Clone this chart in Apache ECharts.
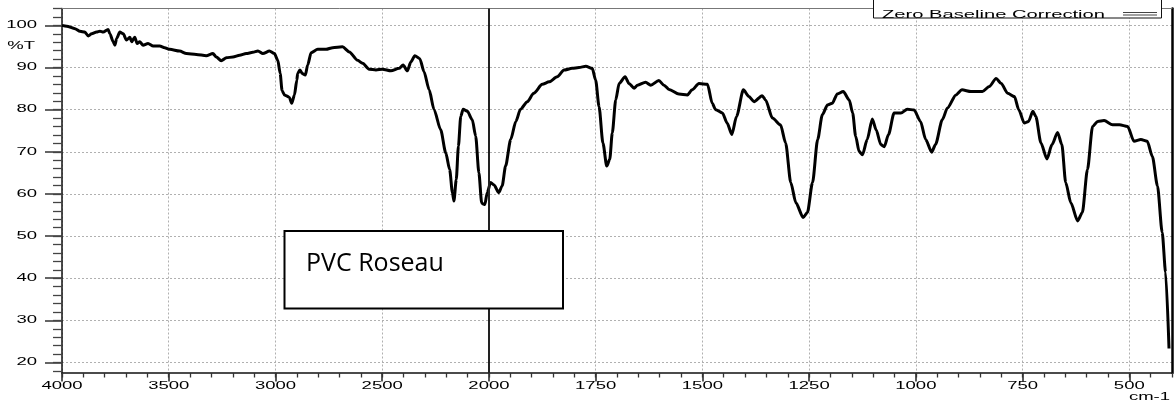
<!DOCTYPE html>
<html>
<head>
<meta charset="utf-8">
<script src="https://cdn.jsdelivr.net/npm/echarts@6/dist/echarts.min.js"></script>
<style>html,body{margin:0;padding:0;background:#fff;}#c{width:1175px;height:403px;}</style>
</head>
<body>
<div id="c"></div>
<script>
const wavenumber = [4000,3978,3939,3916,3893,3877,3861,3838,3822,3807,3784,3776,3760,3752,3744,3729,3713,3698,3682,3674,3659,3648,3636,3620,3597,3573,3542,3519,3495,3449,3417,3371,3324,3293,3277,3254,3230,3199,3168,3137,3106,3082,3059,3028,3005,2989,2978,2969,2958,2950,2935,2924,2911,2900,2896,2885,2875,2860,2849,2833,2802,2763,2732,2686,2654,2615,2592,2561,2529,2499,2459,2421,2402,2382,2366,2347,2324,2304,2280,2257,2226,2202,2184,2171,2164,2153,2143,2132,2121,2101,2078,2062,2047,2034,2027,2019,2008,1996,1988,1977,1969,1961,1949,1937,1926,1910,1895,1875,1859,1840,1824,1805,1789,1773,1758,1750,1742,1733,1724,1717,1711,1703,1695,1681,1672,1660,1652,1633,1621,1602,1590,1578,1555,1535,1524,1508,1488,1477,1469,1453,1442,1431,1420,1404,1391,1379,1360,1352,1336,1317,1305,1293,1281,1264,1254,1242,1230,1219,1207,1196,1184,1170,1156,1148,1141,1133,1125,1114,1102,1093,1082,1074,1064,1051,1035,1020,1004,989,977,963,954,938,926,906,892,871,844,828,812,800,785,769,759,746,736,726,719,707,693,681,668,658,649,637,621,610,598,586,574,559,539,523,504,489,473,458,446,434,423,415,407];
const transmittance = [100,99.8,99.2,98.6,98.4,97.5,98.0,98.4,98.6,98.4,99.0,98.0,96.1,95.3,96.9,98.4,98.0,96.5,97.2,96.1,97.2,95.7,96.1,95.3,95.7,95.1,95.1,94.7,94.3,93.9,93.3,93.1,92.8,93.3,92.5,91.6,92.3,92.5,92.9,93.3,93.6,93.9,93.3,93.9,93.3,91.7,88.6,84.5,83.5,83.3,82.9,81.5,83.5,87.0,88.6,89.4,88.6,88.2,90.6,93.5,94.3,94.3,94.7,94.9,93.7,91.7,91.0,89.6,89.4,89.6,89.2,89.8,90.6,89.2,91.3,92.8,92.1,89.0,84.7,80.0,75.2,69.7,65.8,60.3,58.3,63.4,71.3,78.4,80.1,79.6,77.6,73.7,65.0,57.9,57.6,57.5,60.3,62.7,62.1,60.3,61.9,66.6,72.9,77.2,80.1,81.9,83.9,86.0,86.6,87.8,89.4,89.8,90.0,90.3,89.8,87.0,80.7,72.1,66.6,68.2,74.5,82.3,86.2,87.8,86.2,85.1,85.8,86.5,85.8,86.9,85.8,84.8,83.7,83.5,84.7,86.2,86.0,81.5,80.0,79.2,76.8,74.1,78.4,84.7,83.1,81.9,83.3,82.3,78.0,76.4,72.1,62.7,57.9,54.4,55.6,62.7,72.9,78.8,81.1,81.5,83.7,84.3,82.3,79.2,73.7,70.1,69.3,72.9,77.8,75.2,71.7,71.2,74.1,79.2,79.2,80.1,79.9,77.2,72.9,69.9,71.7,77.6,80.4,83.5,84.7,84.3,84.3,85.5,87.4,86.2,83.9,83.1,80.0,76.8,77.2,79.6,78.4,72.1,68.3,71.7,74.6,71.7,62.7,57.9,53.6,55.6,65.8,76.0,77.2,77.4,76.4,76.4,76.0,72.5,72.9,72.5,68.9,61.9,50.9,41.4,23.3];
const xTickValues = [4000,3500,3000,2500,2000,1750,1500,1250,1000,750,500];
const xTickLabels = ['4000','3500','3000','2500','2000','1750','1500','1250','1000','750','500'];
const yTickValues = [20,30,40,50,60,70,80,90,100];
const yTickLabels = ['20','30','40','50','60','70','80','90','100'];
const markerWavenumber = 2000;
const annotationText = 'PVC Roseau';
const legendText = 'Zero Baseline Correction';

// instrument scale: 4000-2000 cm-1 is drawn at half the scale of 2000-400 cm-1
function toAxis(w) { return w > 2000 ? 2000 + (w - 2000) / 2 : w; }

const X_MIN = 400, X_MAX = 3000, Y_MIN = 17.5, Y_MAX = 104;
const minorX = []; for (let v = 400; v <= 3000; v += 50) minorX.push(v);
const minorY = []; for (let v = 18; v <= 104; v += 2) minorY.push(v);

const chart = echarts.init(document.getElementById('c'), null, {renderer: 'canvas'});
const gridLine = {show: true, lineStyle: {color: '#b0b0b0', width: 1, type: [2, 2]}};
const option = {
  animation: false,
  backgroundColor: '#fff',
  grid: {left: 62, right: 3, top: 8.5, bottom: 30},
  xAxis: [
    {type: 'value', min: X_MIN, max: X_MAX, inverse: true, position: 'bottom',
     axisLine: {onZero: false, lineStyle: {color: '#111', width: 1.5}},
     axisTick: {customValues: xTickValues.map(toAxis), length: 8.5, lineStyle: {color: '#222', width: 1.5}},
     axisLabel: {show: false}, splitLine: gridLine},
    {type: 'value', min: X_MIN, max: X_MAX, inverse: true, position: 'bottom',
     axisLine: {show: false, onZero: false},
     axisTick: {customValues: minorX, length: 4.5, lineStyle: {color: '#333', width: 1.3}},
     axisLabel: {show: false}, splitLine: {show: false}},
    {type: 'value', min: X_MIN, max: X_MAX, inverse: true, position: 'top',
     axisLine: {onZero: false, lineStyle: {color: '#777', width: 1}},
     axisTick: {show: false}, axisLabel: {show: false}, splitLine: {show: false}}
  ],
  yAxis: [
    {type: 'value', min: Y_MIN, max: Y_MAX, position: 'left',
     axisLine: {onZero: false, lineStyle: {color: '#111', width: 1.5}},
     axisTick: {customValues: yTickValues, length: 17, lineStyle: {color: '#333', width: 1.5}},
     axisLabel: {show: false}, splitLine: gridLine},
    {type: 'value', min: Y_MIN, max: Y_MAX, position: 'left',
     axisLine: {show: false, onZero: false},
     axisTick: {customValues: minorY, length: 9, lineStyle: {color: '#444', width: 1.3}},
     axisLabel: {show: false}, splitLine: {show: false}},
    {type: 'value', min: Y_MIN, max: Y_MAX, position: 'right',
     axisLine: {onZero: false, lineStyle: {color: '#000', width: 2.5}},
     axisTick: {show: false}, axisLabel: {show: false}, splitLine: {show: false}}
  ],
  series: [{
    type: 'line', xAxisIndex: 0, yAxisIndex: 0,
    data: wavenumber.map((w, i) => [toAxis(w), transmittance[i]]),
    showSymbol: false, smooth: 0.25, smoothMonotone: 'x',
    lineStyle: {color: '#000', width: 3}, clip: true, z: 3,
    markLine: {silent: true, symbol: ['none', 'none'], label: {show: false},
      lineStyle: {color: '#222', width: 2, type: 'solid'},
      data: [{xAxis: toAxis(markerWavenumber)}]}
  }]
};
chart.setOption(option);

const g = [];
const stretched = (text, x, y, align, vAlign, size, sx) => ({
  type: 'text', x: x, y: y, scaleX: sx || 1.85, scaleY: 1, z: 50,
  style: {text: text, font: size + 'px "Liberation Sans", Arial, sans-serif', fill: '#000',
          textAlign: align, align: align, textVerticalAlign: vAlign, verticalAlign: vAlign}
});
const bottomPx = chart.convertToPixel({yAxisIndex: 0}, Y_MIN);
const leftPx = chart.convertToPixel({xAxisIndex: 0}, X_MAX);
const rightPx = chart.convertToPixel({xAxisIndex: 0}, X_MIN);
xTickValues.forEach((w, i) => {
  g.push(stretched(xTickLabels[i], chart.convertToPixel({xAxisIndex: 0}, toAxis(w)), bottomPx + 13.5, 'center', 'middle', 10));
});
yTickValues.forEach((v, i) => {
  g.push(stretched(yTickLabels[i], leftPx - 25, chart.convertToPixel({yAxisIndex: 0}, v), 'right', 'middle', 10));
});
g.push(stretched('%T', leftPx - 27, chart.convertToPixel({yAxisIndex: 0}, 95), 'right', 'middle', 10));
g.push(stretched('cm-1', rightPx - 2, bottomPx + 24, 'right', 'middle', 10));

// legend box at top right
g.push({type: 'rect', z: 40, shape: {x: 873.5, y: -3, width: 288, height: 21},
        style: {fill: '#fff', stroke: '#111', lineWidth: 1}});
g.push(stretched(legendText, 882, 15, 'left', 'middle', 10.5, 1.92));
g.push({type: 'line', z: 51, shape: {x1: 1123, y1: 12.5, x2: 1157, y2: 12.5}, style: {stroke: '#444', lineWidth: 1}});
g.push({type: 'line', z: 51, shape: {x1: 1123, y1: 15, x2: 1157, y2: 15}, style: {stroke: '#444', lineWidth: 1}});

// annotation box
g.push({type: 'rect', z: 60, shape: {x: 284.5, y: 231, width: 278.5, height: 77.5},
        style: {fill: '#fff', stroke: '#000', lineWidth: 2}});
g.push({type: 'text', z: 61, x: 306, y: 276,
        style: {text: annotationText, font: '25px "Open Sans", "Liberation Sans", sans-serif', fill: '#000',
                textAlign: 'left', align: 'left', textVerticalAlign: 'bottom', verticalAlign: 'bottom'}});

chart.setOption({graphic: {elements: g}});
</script>
</body>
</html>
